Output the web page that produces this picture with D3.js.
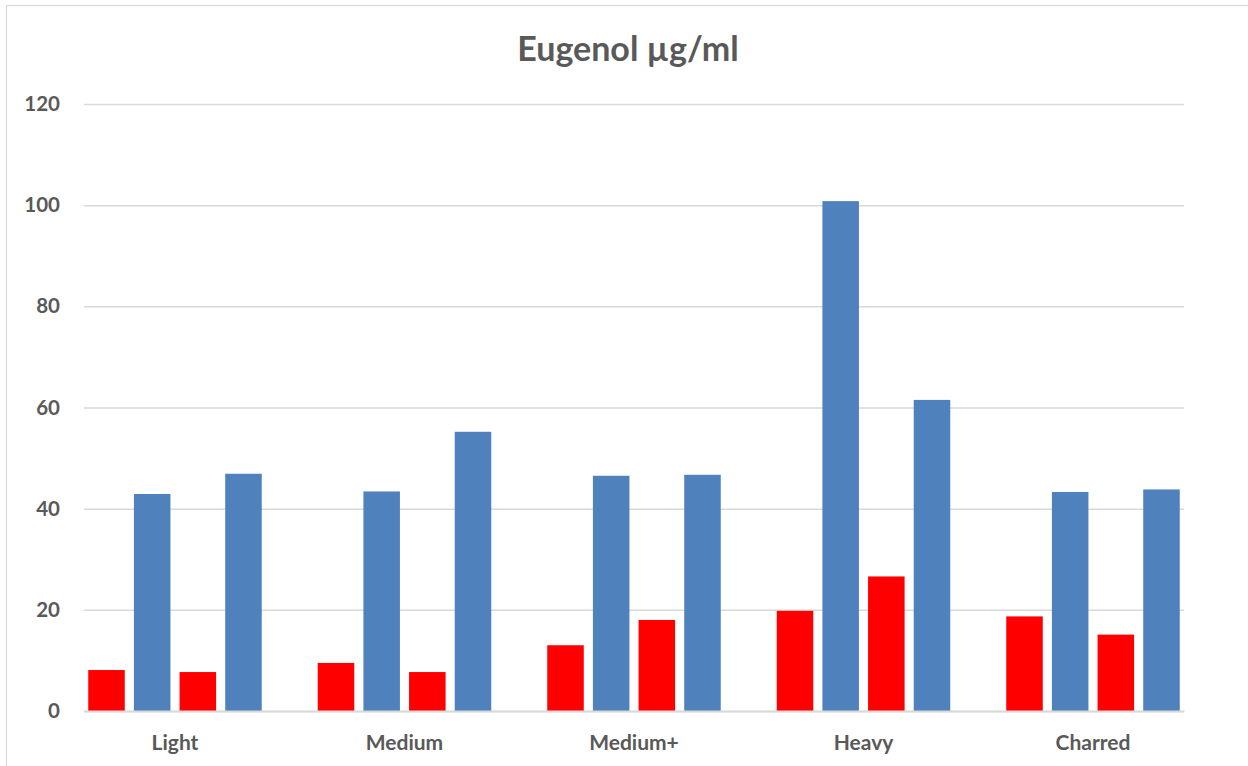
<!DOCTYPE html>
<html>
<head>
<meta charset="utf-8">
<script src="https://cdn.jsdelivr.net/npm/d3@7"></script>
<style>
  html, body { margin: 0; padding: 0; background: #fff; }
  svg { display: block; }
  text { font-family: Lato, "Open Sans", sans-serif; font-weight: bold; fill: #595959; }
</style>
</head>
<body>
<svg id="chart" width="1248" height="766"></svg>
<script>
// Eugenol concentration by toast level, four measurements per level
const categories = ["Light", "Medium", "Medium+", "Heavy", "Charred"];
const seriesNames = ["s1", "s2", "s3", "s4"];
const seriesColors = ["#FF0000", "#4F81BD", "#FF0000", "#4F81BD"];
const s1 = [8.1, 9.5, 13.0, 19.8, 18.7];
const s2 = [42.9, 43.4, 46.5, 100.8, 43.3];
const s3 = [7.7, 7.7, 18.0, 26.6, 15.1];
const s4 = [46.9, 55.2, 46.7, 61.5, 43.8];
const yTicks = [0, 20, 40, 60, 80, 100, 120];
const titleText = "Eugenol µg/ml";

const seriesValues = [s1, s2, s3, s4];
const rows = categories.map((c, i) => ({
  category: c,
  values: seriesNames.map((s, j) => ({ key: s, value: seriesValues[j][i], color: seriesColors[j] }))
}));

const svg = d3.select("#chart");
const W = 1248, H = 766;
const plot = { left: 84, right: 1184, top: 104, bottom: 711 };

// chart frame
svg.append("rect")
  .attr("x", 6.5).attr("y", 5.5)
  .attr("width", W).attr("height", H)
  .attr("fill", "#fff").attr("stroke", "#d9d9d9").attr("stroke-width", 1.2);

const y = d3.scaleLinear().domain([0, 120]).range([plot.bottom, plot.top]);
const x0 = d3.scaleBand().domain(categories).range([plot.left, plot.right])
  .paddingInner(0.244).paddingOuter(0.0185);
const x1 = d3.scaleBand().domain(seriesNames).range([0, x0.bandwidth()])
  .paddingInner(0.2).paddingOuter(0);

// gridlines
const yAxis = d3.axisLeft(y).tickValues(yTicks).tickSize(-(plot.right - plot.left)).tickPadding(24);
const gy = svg.append("g").attr("transform", `translate(${plot.left},0)`).call(yAxis);
gy.select(".domain").remove();
gy.selectAll(".tick line").attr("stroke", "#d9d9d9").attr("stroke-width", 1.5);
gy.selectAll(".tick text").attr("font-size", 20.5).attr("fill", "#595959")
  .style("font-family", "Lato, 'Open Sans', sans-serif").style("font-weight", "bold");

// bars
const groups = svg.append("g").selectAll("g").data(rows).join("g")
  .attr("transform", d => `translate(${x0(d.category)},0)`);
groups.selectAll("rect").data(d => d.values).join("rect")
  .attr("x", d => x1(d.key))
  .attr("width", x1.bandwidth())
  .attr("y", d => y(d.value))
  .attr("height", d => y(0) - y(d.value))
  .attr("fill", d => d.color);

// category axis
const xAxis = d3.axisBottom(x0).tickSize(0).tickPadding(24);
const gx = svg.append("g").attr("transform", `translate(0,${plot.bottom})`).call(xAxis);
gx.select(".domain").attr("stroke", "#d9d9d9").attr("stroke-width", 1.8);
gx.selectAll(".tick text").attr("font-size", 21).attr("fill", "#595959")
  .style("font-family", "Lato, 'Open Sans', sans-serif").style("font-weight", "bold");

// title
svg.append("text")
  .attr("x", 628).attr("y", 61)
  .attr("text-anchor", "middle")
  .attr("font-size", 34)
  .text(titleText);
</script>
</body>
</html>
